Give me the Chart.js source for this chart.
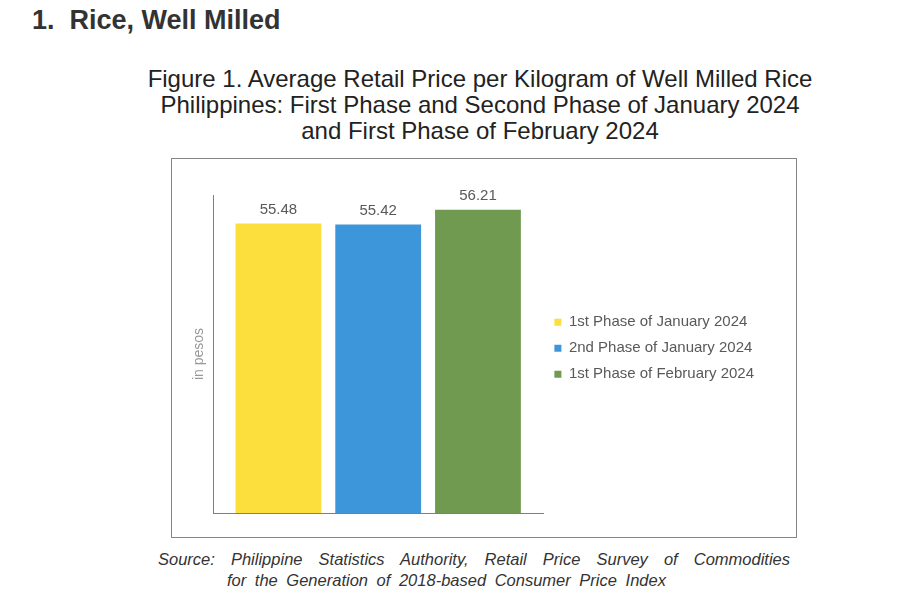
<!DOCTYPE html>
<html>
<head>
<meta charset="utf-8">
<script src="https://cdn.jsdelivr.net/npm/chart.js@4.4.1/dist/chart.umd.min.js"></script>
<style>
  body { margin: 0; background: #fff; width: 916px; height: 600px; position: relative; font-family: "Liberation Sans", Arial, sans-serif; overflow: hidden; }
  #heading { position: absolute; left: 32px; top: 5px; font-size: 27px; font-weight: bold; color: #333; }
  #figTitle { position: absolute; left: 110px; width: 740px; top: 66px; text-align: center; font-size: 24px; line-height: 26px; color: #222; }
  #box { position: absolute; left: 171px; top: 158px; width: 624px; height: 378px; border: 1px solid #858585; }
  #source { position: absolute; left: 158px; top: 549px; font-size: 16.5px; font-style: italic; color: #333; line-height: 21px; }
  #source .l1 { width: 632px; text-align: justify; text-align-last: justify; }
  #source .l2 { padding-left: 69px; word-spacing: 4px; }
</style>
</head>
<body>
<div id="heading">1.&nbsp; Rice, Well Milled</div>
<div id="figTitle">Figure 1. Average Retail Price per Kilogram of Well Milled Rice<br>Philippines: First Phase and Second Phase of January 2024<br>and First Phase of February 2024</div>
<div id="box"><canvas id="riceChart" width="624" height="378"></canvas></div>
<div id="source">
  <div class="l1">Source: Philippine Statistics Authority, Retail Price Survey of Commodities</div>
  <div class="l2">for the Generation of 2018-based Consumer Price Index</div>
</div>
<script>
const categories = ["Well Milled Rice"];
const seriesNames = ["1st Phase of January 2024", "2nd Phase of January 2024", "1st Phase of February 2024"];
const jan1Prices = [55.48];
const jan2Prices = [55.42];
const feb1Prices = [56.21];
const seriesColors = ["#FCDF3C", "#3E96DA", "#6F9A50"];

/* value labels above each bar */
const valueLabels = {
  id: "valueLabels",
  afterDatasetsDraw(chart) {
    const ctx = chart.ctx;
    ctx.save();
    ctx.font = "15px 'Liberation Sans', Arial, sans-serif";
    ctx.fillStyle = "#595959";
    ctx.textAlign = "center";
    ctx.textBaseline = "bottom";
    chart.data.datasets.forEach((ds, i) => {
      chart.getDatasetMeta(i).data.forEach((bar, j) => {
        ctx.fillText(ds.data[j].toFixed(2), bar.x, bar.y - 6);
      });
    });
    ctx.restore();
  }
};

const ctx = document.getElementById("riceChart");
new Chart(ctx, {
  type: "bar",
  data: {
    labels: categories,
    datasets: [
      { label: seriesNames[0], data: jan1Prices, backgroundColor: seriesColors[0] },
      { label: seriesNames[1], data: jan2Prices, backgroundColor: seriesColors[1] },
      { label: seriesNames[2], data: feb1Prices, backgroundColor: seriesColors[2] }
    ]
  },
  options: {
    responsive: false,
    animation: false,
    layout: { padding: { top: 36, bottom: 16, left: 0, right: 32 } },
    datasets: { bar: { categoryPercentage: 0.906, barPercentage: 0.86, borderWidth: 0 } },
    scales: {
      x: {
        grid: { display: false },
        ticks: { display: false },
        border: { color: "#7f7f7f", width: 1 }
      },
      y: {
        min: 40,
        max: 57,
        grid: { display: false },
        ticks: { display: false },
        border: { color: "#7f7f7f", width: 1 },
        title: {
          display: true,
          text: "in pesos",
          color: "#999",
          font: { family: "'Liberation Sans', Arial, sans-serif", size: 14 },
          padding: { top: 19, bottom: 0 }
        },
        afterFit: s => { s.width = 41; }
      }
    },
    plugins: {
      tooltip: { enabled: false },
      legend: {
        position: "right",
        align: "start",
        maxWidth: 260,
        title: { display: true, text: " ", padding: 46, font: { size: 14 } },
        labels: {
          boxWidth: 7,
          boxHeight: 7,
          padding: 11,
          color: "#595959",
          font: { family: "'Liberation Sans', Arial, sans-serif", size: 15 }
        }
      }
    }
  },
  plugins: [valueLabels]
});
</script>
</body>
</html>
